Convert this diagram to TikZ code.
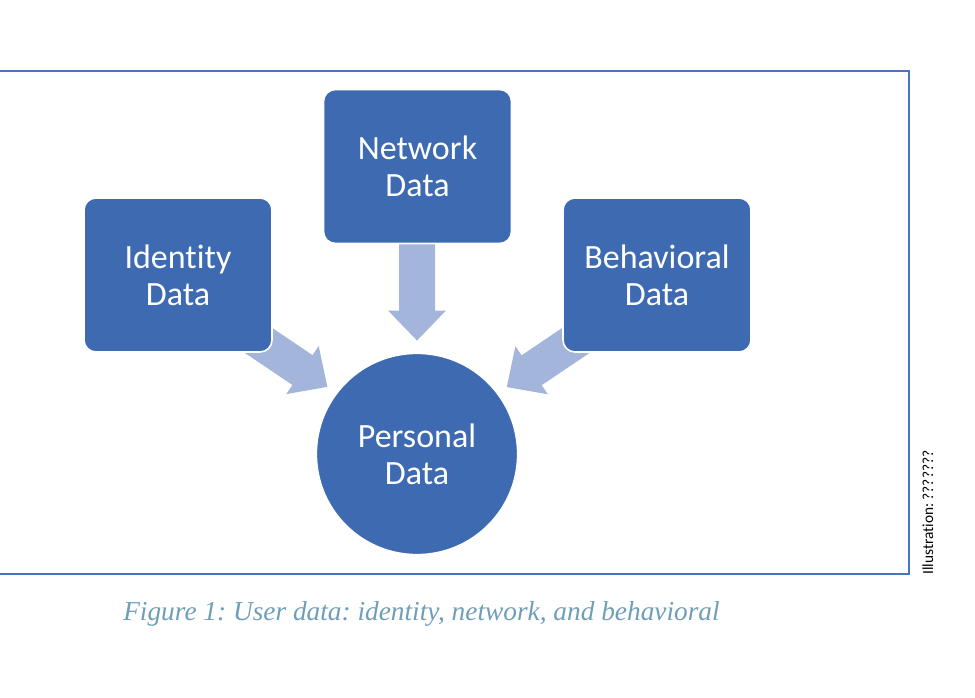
\documentclass[tikz,border=0pt]{standalone}
\usepackage{fontspec}
\setmainfont{Carlito}[Ligatures=NoCommon]
\newfontfamily\capfont{Liberation Serif}
\usetikzlibrary{calc}
\pgfdeclarelayer{background}
\pgfsetlayers{background,main}
\definecolor{boxblue}{RGB}{62,106,178}
\definecolor{arrowblue}{RGB}{163,181,218}
\definecolor{frameblue}{RGB}{74,116,192}
\definecolor{capblue}{RGB}{110,158,184}
\frenchspacing
\tikzset{
  databox/.style={rectangle, rounded corners=9pt, fill=boxblue, draw=white, line width=1.2pt,
    minimum width=141pt, minimum height=115.5pt, text=white, align=center,
    font=\fontsize{25.5}{28}\selectfont},
  datacircle/.style={circle, fill=boxblue, draw=white, line width=1.2pt,
    minimum size=151pt, text=white, align=center, inner sep=0pt,
    font=\fontsize{25.5}{28}\selectfont},
  pics/blockarrow/.style={code={
    \fill[arrowblue] (-#1,18) -- (-30,18) -- (-30,29) -- (0,0) -- (-30,-29) -- (-30,-18) -- (-#1,-18) -- cycle;
  }}
}
\begin{document}
\begin{tikzpicture}[x=0.75pt, y=-0.75pt]
\useasboundingbox (0,0) rectangle (975,698);
\draw[frameblue, line width=1.1pt] (-10,71) -- (909,71) -- (909,574) -- (-10,574);
\node[databox] (identity) at (178,275) {Identity\\Data};
\node[databox] (network) at (417.5,166.5) {Network\\Data};
\node[databox] (behavioral) at (657,275) {Behavioral\\Data};
\node[datacircle] (personal) at (417,454) {Personal\\Data};
\coordinate (tipN) at ($(personal.north)+(0,-12)$);
\coordinate (tipI) at ($(personal.center)!84pt!(identity.center)$);
\coordinate (tipB) at ($(personal.center)!84pt!(behavioral.center)$);
\begin{pgfonlayer}{background}
  \pic[rotate=-90] at (tipN) {blockarrow=97};
  \pic[rotate=-34] at (tipI) {blockarrow=115};
  \pic[rotate=-146] at (tipB) {blockarrow=115};
\end{pgfonlayer}
\node[text=capblue, font=\capfont\itshape\fontsize{20.5}{24}\selectfont, anchor=base west, inner sep=0pt] (caption) at (123,620) {Figure 1: User data: identity, network, and behavioral};
\node[rotate=90, font=\fontsize{11.5}{13}\selectfont, anchor=base west, inner sep=0pt] (credit) at (933,575) {Illustration: ???????};
\end{tikzpicture}
\end{document}
